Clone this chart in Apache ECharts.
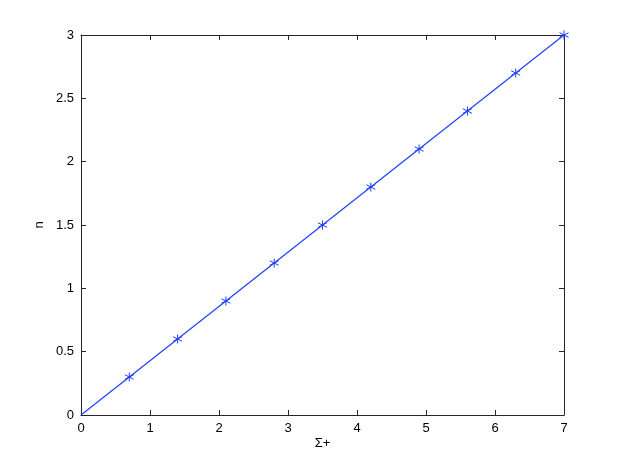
<!DOCTYPE html>
<html>
<head>
<meta charset="utf-8">
<script src="https://cdn.jsdelivr.net/npm/echarts@6/dist/echarts.min.js"></script>
<style>
html, body { margin: 0; padding: 0; background: #fff; }
#main { width: 622px; height: 468px; }
</style>
</head>
<body>
<div id="main"></div>
<script>
// data
var lineX = [0, 7];
var lineY = [0, 3];
var markX = [0.7, 1.4, 2.1, 2.8, 3.5, 4.2, 4.9, 5.6, 6.3, 7.0];
var markY = [0.3, 0.6, 0.9, 1.2, 1.5, 1.8, 2.1, 2.4, 2.7, 3.0];

var blue = '#1f3fff';
var axisColor = '#262626';
var star = 'path://M0 -5 L0 5 M-4.33 -2.5 L4.33 2.5 M-4.33 2.5 L4.33 -2.5';

var chart = echarts.init(document.getElementById('main'));

function pairs(xs, ys) {
    var out = [];
    for (var i = 0; i < xs.length; i++) out.push([xs[i], ys[i]]);
    return out;
}

var font = 'Liberation Sans';
var tickStyle = { show: true, inside: true, length: 5, lineStyle: { color: axisColor } };
var lineStyle = { show: true, onZero: false, lineStyle: { color: axisColor, width: 1 } };
var labelStyle = { color: '#000', fontSize: 13, fontFamily: font, margin: 7 };
var nameStyle = { color: '#000', fontSize: 13, fontFamily: font };

var option = {
    animation: false,
    grid: { left: 81, right: 58, top: 35, bottom: 53 },
    xAxis: [
        {
            type: 'value', min: 0, max: 7, interval: 1, position: 'bottom',
            name: 'Σ+', nameLocation: 'middle', nameGap: 22, nameMoveOverlap: false,
            nameTextStyle: nameStyle,
            axisLine: lineStyle, axisTick: tickStyle, axisLabel: labelStyle,
            splitLine: { show: false }
        },
        {
            type: 'value', min: 0, max: 7, interval: 1, position: 'top',
            axisLine: lineStyle, axisTick: tickStyle, axisLabel: { show: false },
            splitLine: { show: false }
        }
    ],
    yAxis: [
        {
            type: 'value', min: 0, max: 3, interval: 0.5, position: 'left',
            name: 'n', nameLocation: 'middle', nameGap: 35, nameMoveOverlap: false,
            nameTextStyle: nameStyle,
            axisLine: lineStyle, axisTick: tickStyle, axisLabel: labelStyle,
            splitLine: { show: false }
        },
        {
            type: 'value', min: 0, max: 3, interval: 0.5, position: 'right',
            axisLine: lineStyle, axisTick: tickStyle, axisLabel: { show: false },
            splitLine: { show: false }
        }
    ],
    series: [
        {
            type: 'line',
            data: pairs(lineX, lineY),
            showSymbol: false,
            lineStyle: { color: blue, width: 1.2 },
            z: 2
        },
        {
            type: 'scatter',
            data: pairs(markX, markY),
            symbol: star,
            symbolSize: 9,
            itemStyle: { color: 'none', borderColor: blue, borderWidth: 1, opacity: 1 },
            z: 3
        }
    ]
};

chart.setOption(option);
</script>
</body>
</html>
